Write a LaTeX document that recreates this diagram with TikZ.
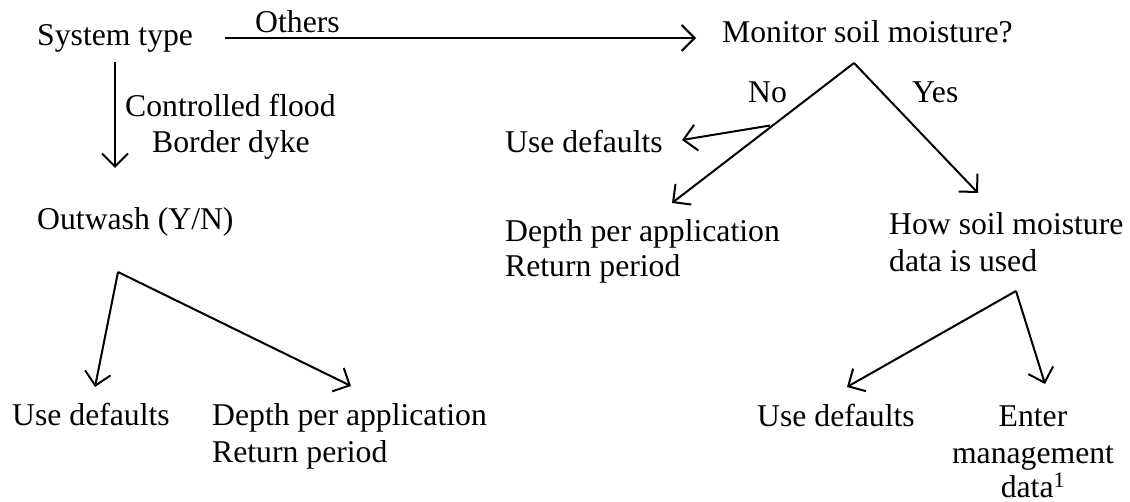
\documentclass[tikz,border=0pt]{standalone}
\usepackage{fontspec}
\setmainfont{Liberation Serif}
\usetikzlibrary{arrows.meta}
\begin{document}
\begin{tikzpicture}[x=1pt,y=-1pt,
  txt/.style={inner sep=0pt,anchor=base west,font=\fontsize{31.7}{36}\selectfont},
  ctxt/.style={inner sep=0pt,anchor=base,font=\fontsize{31.7}{36}\selectfont},
  conn/.style={line width=2pt,-{Straight Barb[length=13pt,width=26pt,line width=2pt]}}]
\useasboundingbox (0,0) rectangle (1130,502);
% texts
\node[txt] (sys) at (37,46) {System type};
\node[txt] (oth) at (255,33) {Others};
\node[txt] (mon) at (722,43) {Monitor soil moisture?};
\node[txt] (cf) at (125,117) {Controlled flood};
\node[txt] (bd) at (152,153) {Border dyke};
\node[txt] (out) at (37,230) {Outwash (Y/N)};
\node[txt] (ud1) at (12,425) {Use defaults};
\node[txt] (dp1) at (212,425) {Depth per application};
\node[txt] (rp1) at (212,462) {Return period};
\node[txt] (no) at (748,103) {No};
\node[txt] (yes) at (912,103) {Yes};
\node[txt] (ud2) at (505,153) {Use defaults};
\node[txt] (dp2) at (505,242) {Depth per application};
\node[txt] (rp2) at (505,277) {Return period};
\node[txt] (how) at (889,235) {How soil moisture};
\node[txt] (dat) at (889,272) {data is used};
\node[txt] (ud3) at (757,427) {Use defaults};
\node[ctxt] (ent) at (1033,427) {Enter};
\node[ctxt] (mgt) at (1033,464) {management};
\node[ctxt] (md) at (1033,497) {data\textsuperscript{1}};
% connector end points
\coordinate (h0) at (225,38);
\coordinate (h1) at (696,38);
\coordinate (v0) at (115,62);
\coordinate (v1) at (115,168);
\coordinate (a1) at (118,272);
\coordinate (t1l) at (95,387);
\coordinate (t1r) at (351,386);
\coordinate (a2) at (854,63);
\coordinate (b2) at (770,125.5);
\coordinate (t2u) at (682,140);
\coordinate (t2d) at (672,203);
\coordinate (t2r) at (978,193);
\coordinate (a3) at (1016,291);
\coordinate (t3l) at (847,387);
\coordinate (t3r) at (1045,384);
% connectors
\draw[conn] (h0) -- (h1);
\draw[conn] (v0) -- (v1);
\draw[conn] (a1) -- (t1l);
\draw[conn] (a1) -- (t1r);
\draw[conn] (a2) -- (t2d);
\draw[conn] (b2) -- (t2u);
\draw[conn] (a2) -- (t2r);
\draw[conn] (a3) -- (t3l);
\draw[conn] (a3) -- (t3r);
\end{tikzpicture}
\end{document}
